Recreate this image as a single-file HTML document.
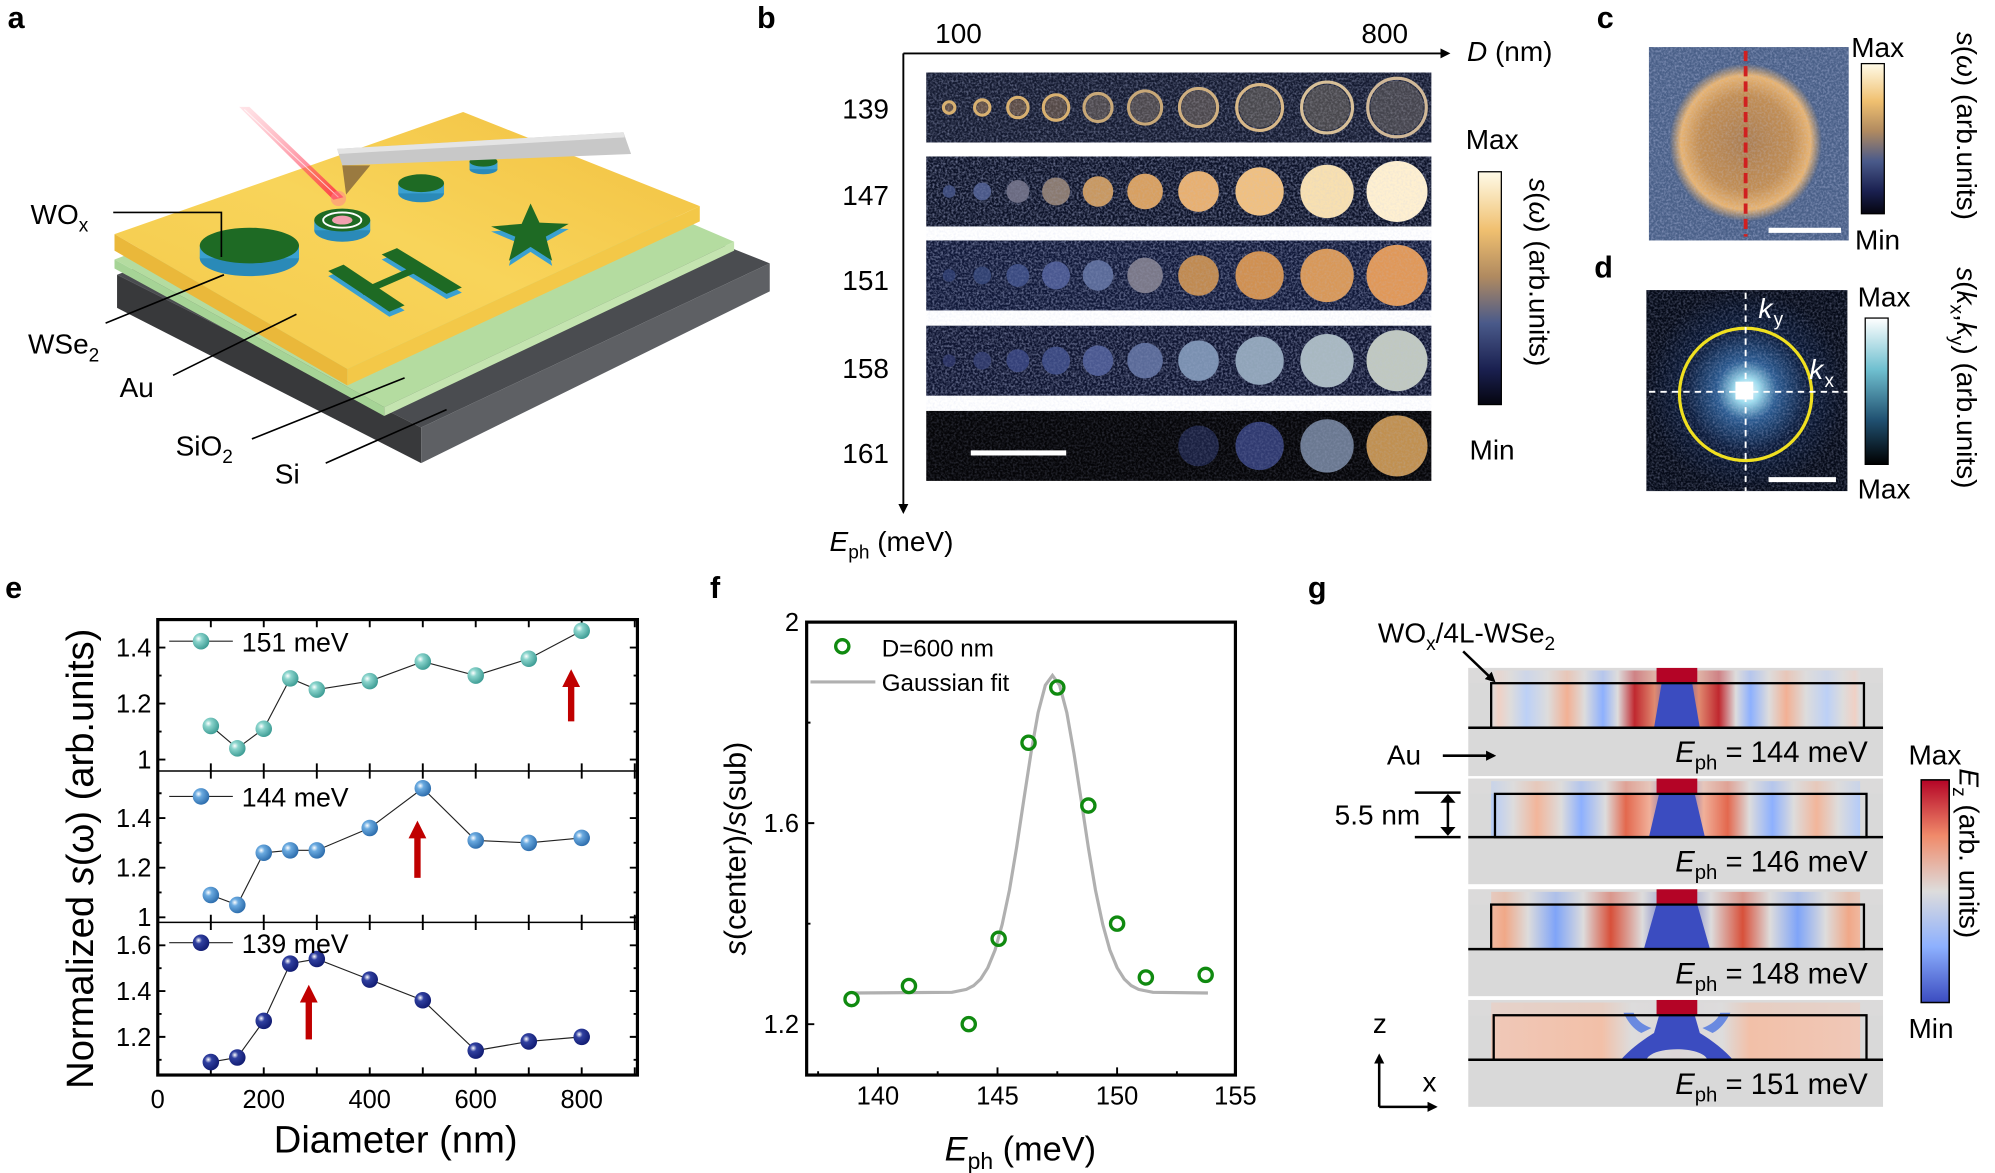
<!DOCTYPE html>
<html><head><meta charset="utf-8">
<style>
html,body{margin:0;padding:0;background:#fff;}
svg{display:block;font-family:"Liberation Sans",Arial,sans-serif;}
</style></head>
<body>
<svg width="1995" height="1173" viewBox="0 0 1568 922" preserveAspectRatio="none" xmlns="http://www.w3.org/2000/svg" xmlns:xlink="http://www.w3.org/1999/xlink">
<defs>
<linearGradient id="cbB" x1="0" y1="0" x2="0" y2="1">
<stop offset="0" stop-color="#fffbe8"/><stop offset="0.25" stop-color="#f0c070"/><stop offset="0.45" stop-color="#b08a60"/><stop offset="0.65" stop-color="#4a5a8a"/><stop offset="0.85" stop-color="#1a2050"/><stop offset="1" stop-color="#05050f"/></linearGradient>
<linearGradient id="cbD" x1="0" y1="0" x2="0" y2="1">
<stop offset="0" stop-color="#ffffff"/><stop offset="0.35" stop-color="#70c0d0"/><stop offset="0.7" stop-color="#205070"/><stop offset="1" stop-color="#000"/></linearGradient>
<linearGradient id="cbG" x1="0" y1="0" x2="0" y2="1">
<stop offset="0" stop-color="#b40426"/><stop offset="0.25" stop-color="#f08a6a"/><stop offset="0.5" stop-color="#dddcdc"/><stop offset="0.75" stop-color="#8db0fe"/><stop offset="1" stop-color="#3b4cc0"/></linearGradient>
<linearGradient id="au" x1="0" y1="1" x2="1" y2="0"><stop offset="0" stop-color="#f4c94a"/><stop offset="0.5" stop-color="#f8d45a"/><stop offset="1" stop-color="#f2c040"/></linearGradient>
<linearGradient id="laser" x1="0" y1="0" x2="1" y2="1"><stop offset="0" stop-color="#ff9aa8" stop-opacity="0.3"/><stop offset="1" stop-color="#ff2040"/></linearGradient>
<radialGradient id="sph1" cx="0.35" cy="0.35" r="0.7"><stop offset="0" stop-color="#ffffff"/><stop offset="0.3" stop-color="#8ad4cc"/><stop offset="1" stop-color="#3a9a92"/></radialGradient>
<radialGradient id="sph2" cx="0.35" cy="0.35" r="0.7"><stop offset="0" stop-color="#ffffff"/><stop offset="0.3" stop-color="#6aaae0"/><stop offset="1" stop-color="#2a6aaa"/></radialGradient>
<radialGradient id="sph3" cx="0.35" cy="0.35" r="0.7"><stop offset="0" stop-color="#ffffff"/><stop offset="0.3" stop-color="#3040a0"/><stop offset="1" stop-color="#101a70"/></radialGradient>
<radialGradient id="cimg" cx="0.5" cy="0.5" r="0.5"><stop offset="0" stop-color="#b08050"/><stop offset="0.6" stop-color="#c89050"/><stop offset="0.85" stop-color="#f0b870"/><stop offset="1" stop-color="#4a6088"/></radialGradient>
<radialGradient id="dimg" cx="0.5" cy="0.5" r="0.5"><stop offset="0" stop-color="#ffffff"/><stop offset="0.12" stop-color="#a0e0f0"/><stop offset="0.3" stop-color="#2a5a90"/><stop offset="0.6" stop-color="#0a1a3a"/><stop offset="1" stop-color="#050a18"/></radialGradient>
<linearGradient id="g1" x1="0" y1="0" x2="1" y2="0">
<stop offset="0" stop-color="#dddcdc"/><stop offset="0.02" stop-color="#f0d0c4"/><stop offset="0.053" stop-color="#dddcdc"/><stop offset="0.096" stop-color="#bcd0f6"/><stop offset="0.153" stop-color="#dddcdc"/><stop offset="0.206" stop-color="#f2b094"/><stop offset="0.253" stop-color="#dddcdc"/><stop offset="0.303" stop-color="#8db0fe"/><stop offset="0.343" stop-color="#dddcdc"/><stop offset="0.389" stop-color="#c0282f"/><stop offset="0.443" stop-color="#e08a70"/><stop offset="0.503" stop-color="#3b4cc0"/><stop offset="0.563" stop-color="#e08a70"/><stop offset="0.617" stop-color="#c0282f"/><stop offset="0.663" stop-color="#dddcdc"/><stop offset="0.703" stop-color="#8db0fe"/><stop offset="0.753" stop-color="#dddcdc"/><stop offset="0.8" stop-color="#f2b094"/><stop offset="0.853" stop-color="#dddcdc"/><stop offset="0.91" stop-color="#bcd0f6"/><stop offset="0.953" stop-color="#dddcdc"/><stop offset="0.986" stop-color="#f0d0c4"/><stop offset="1" stop-color="#dddcdc"/></linearGradient>
<linearGradient id="g2" x1="0" y1="0" x2="1" y2="0">
<stop offset="0" stop-color="#b4cbf8"/><stop offset="0.06" stop-color="#dddcdc"/><stop offset="0.124" stop-color="#f2b59a"/><stop offset="0.19" stop-color="#dddcdc"/><stop offset="0.244" stop-color="#8db0fe"/><stop offset="0.31" stop-color="#dddcdc"/><stop offset="0.365" stop-color="#e3684e"/><stop offset="0.43" stop-color="#f0b09a"/><stop offset="0.503" stop-color="#3b4cc0"/><stop offset="0.576" stop-color="#f0b09a"/><stop offset="0.641" stop-color="#e3684e"/><stop offset="0.7" stop-color="#dddcdc"/><stop offset="0.762" stop-color="#8db0fe"/><stop offset="0.82" stop-color="#dddcdc"/><stop offset="0.882" stop-color="#f2b59a"/><stop offset="0.94" stop-color="#dddcdc"/><stop offset="1" stop-color="#b4cbf8"/></linearGradient>
<linearGradient id="g3" x1="0" y1="0" x2="1" y2="0">
<stop offset="0" stop-color="#f0b8a0"/><stop offset="0.037" stop-color="#f0a888"/><stop offset="0.1" stop-color="#dddcdc"/><stop offset="0.175" stop-color="#7fa4f8"/><stop offset="0.25" stop-color="#dddcdc"/><stop offset="0.324" stop-color="#d8503a"/><stop offset="0.41" stop-color="#dddcdc"/><stop offset="0.503" stop-color="#3b4cc0"/><stop offset="0.596" stop-color="#dddcdc"/><stop offset="0.682" stop-color="#d8503a"/><stop offset="0.756" stop-color="#dddcdc"/><stop offset="0.831" stop-color="#7fa4f8"/><stop offset="0.906" stop-color="#dddcdc"/><stop offset="0.969" stop-color="#f0a888"/><stop offset="1" stop-color="#f0b8a0"/></linearGradient>
<linearGradient id="g4" x1="0" y1="0" x2="1" y2="0">
<stop offset="0" stop-color="#f0c8b8"/><stop offset="0.3" stop-color="#f2c0a8"/><stop offset="0.38" stop-color="#dddcdc"/><stop offset="0.503" stop-color="#dcd6d8"/><stop offset="0.626" stop-color="#dddcdc"/><stop offset="0.7" stop-color="#f2c0a8"/><stop offset="1" stop-color="#f0c8b8"/></linearGradient>
<filter id="noise" x="0" y="0" width="1" height="1"><feTurbulence type="fractalNoise" baseFrequency="0.6" numOctaves="2" seed="3"/><feColorMatrix type="matrix" values="0 0 0 0 0.5  0 0 0 0 0.55  0 0 0 0 0.8  0 0 0 1.2 -0.45"/><feComposite in2="SourceGraphic" operator="in"/></filter>
<marker id="ah" markerWidth="8" markerHeight="8" refX="6" refY="4" orient="auto" markerUnits="userSpaceOnUse"><path d="M0,0 L8,4 L0,8 z" fill="#000"/></marker>
<path id="xt" d="M124,0v-6M165.7,0v-6M207.3,0v-6M249,0v-6M290.6,0v-6M332.3,0v-6M373.9,0v-6M415.6,0v-6M457.2,0v-6M498.9,0v-6" stroke="#000" stroke-width="1.5"/>
</defs>

<g font-weight="bold" font-size="24" fill="#000">
<text x="6" y="22">a</text><text x="595" y="22">b</text><text x="1255" y="22">c</text><text x="1253" y="218">d</text>
<text x="4" y="470">e</text><text x="558" y="470">f</text><text x="1028" y="470">g</text></g>

<!-- ===== panel a ===== -->
<g>
<polygon points="92,216 366,112 605,207 331,336" fill="#4a4c50"/>
<polygon points="92,216 331,336 331,364 92,242" fill="#38393b"/>
<polygon points="331,336 605,207 605,229 331,364" fill="#5e6064"/>
<polygon points="90,204 364,99 577,190 302,320" fill="#b4dca0"/>
<polygon points="90,204 302,320 302,327 90,211" fill="#a6d496"/>
<polygon points="302,320 577,190 577,197 302,327" fill="#c4e4b0"/>
<polygon points="90,184 364,88 550,162 273,290" fill="url(#au)"/>
<polygon points="90,184 273,290 273,303 90,197" fill="#eab83a"/>
<polygon points="273,290 550,162 550,174 273,303" fill="#f3c848"/>
<ellipse cx="196" cy="203" rx="39" ry="14" fill="#2a8ab8"/><rect x="157" y="193" width="78" height="10" fill="#3aa0d0"/>
<ellipse cx="196" cy="193" rx="39" ry="14" fill="#1e6a24"/>
<ellipse cx="269" cy="181" rx="22" ry="9" fill="#2a8ab8"/><rect x="247" y="173" width="44" height="8" fill="#3aa0d0"/>
<ellipse cx="269" cy="173" rx="22" ry="9" fill="#1e6a24"/><ellipse cx="269" cy="173" rx="15" ry="6" fill="none" stroke="#fff" stroke-width="1.5"/><ellipse cx="269" cy="173" rx="8" ry="3.5" fill="#f0a0b0"/>
<ellipse cx="331" cy="152" rx="18" ry="7" fill="#2a8ab8"/><rect x="313" y="144" width="36" height="8" fill="#3aa0d0"/><ellipse cx="331" cy="144" rx="18" ry="7" fill="#1e6a24"/>
<ellipse cx="380" cy="133" rx="11" ry="4" fill="#2a8ab8"/><rect x="369" y="127" width="22" height="6" fill="#3aa0d0"/><ellipse cx="380" cy="127" rx="11" ry="4" fill="#1e6a24"/>
<polygon points="417,160 424,175 447,176 429,186 434,205 417,194 400,205 405,186 386,178 410,176" fill="#3aa0d0" transform="translate(0,4)"/>
<polygon points="417,160 424,175 447,176 429,186 434,205 417,194 400,205 405,186 386,178 410,176" fill="#1e6a24"/>
<g transform="translate(0,4)" fill="#3aa0d0"><polygon points="258,213 270,208 318,240 306,245"/><polygon points="300,200 312,195 363,226 351,231"/></g>
<g fill="#1e6a24"><polygon points="258,213 270,208 318,240 306,245"/><polygon points="300,200 312,195 363,226 351,231"/><polygon points="282,228 328,208 332,212 286,232"/></g>
<polygon points="265,117 490,104 496,121 269,130" fill="#c8c8c8"/><polygon points="265,117 490,104 491,108 266,121" fill="#e4e4e4"/>
<polygon points="269,130 291,130 272,153" fill="#9a7a40"/>
<polygon points="188,84 196,84 270,155 262,157" fill="url(#laser)" opacity="0.85"/>
<line x1="192" y1="86" x2="266" y2="155" stroke="#fff" stroke-width="0.8" opacity="0.7"/>
<circle cx="266" cy="156" r="6" fill="#ff8090" opacity="0.5"/>
</g>
<g font-size="22" fill="#000">
<text x="24" y="176">WO<tspan font-size="15" dy="6">x</tspan></text>
<text x="22" y="278">WSe<tspan font-size="15" dy="6">2</tspan></text>
<text x="94" y="312">Au</text>
<text x="138" y="358">SiO<tspan font-size="15" dy="6">2</tspan></text>
<text x="216" y="380">Si</text></g>
<g stroke="#000" stroke-width="1.3" fill="none">
<polyline points="89,167 174,167 174,202"/><line x1="83" y1="254" x2="176" y2="216"/><line x1="136" y1="295" x2="233" y2="247"/>
<line x1="198" y1="345" x2="318" y2="297"/><line x1="256" y1="364" x2="351" y2="322"/></g>

<!-- ===== panel b ===== -->
<rect x="728" y="57" width="397" height="55" fill="#141a30"/><rect x="728" y="57" width="397" height="55" fill="#404a80" filter="url(#noise)" opacity="0.8"/>
<rect x="728" y="123" width="397" height="55" fill="#0c1228"/><rect x="728" y="123" width="397" height="55" fill="#404a80" filter="url(#noise)" opacity="0.7"/>
<rect x="728" y="189" width="397" height="55" fill="#101838"/><rect x="728" y="189" width="397" height="55" fill="#404a80" filter="url(#noise)" opacity="0.7"/>
<rect x="728" y="256" width="397" height="55" fill="#0e1430"/><rect x="728" y="256" width="397" height="55" fill="#404a80" filter="url(#noise)" opacity="0.7"/>
<rect x="728" y="323" width="397" height="55" fill="#050508"/>
<g transform="translate(0,84.5)" fill="none" stroke-width="2.5">
<circle cx="746" cy="0" r="4.5" stroke="#d8b070"/><circle cx="772" cy="0" r="6" stroke="#d8b070"/><circle cx="800" cy="0" r="8" stroke="#d8b070"/><circle cx="830" cy="0" r="10" stroke="#d8b070"/><circle cx="863" cy="0" r="11" stroke="#c8a878"/><circle cx="900" cy="0" r="13" stroke="#c8a878"/><circle cx="942" cy="0" r="15" stroke="#d0b080"/><circle cx="990" cy="0" r="18" stroke="#d8b888"/><circle cx="1043" cy="0" r="20" stroke="#d8c098"/><circle cx="1098" cy="0" r="23" stroke="#d0b898"/>
</g>
<g transform="translate(0,84.5)" opacity="0.45">
<circle cx="746" cy="0" r="3" fill="#c09060"/><circle cx="772" cy="0" r="4.5" fill="#c09060"/><circle cx="800" cy="0" r="6.5" fill="#b08860"/><circle cx="830" cy="0" r="8.5" fill="#a08060"/><circle cx="863" cy="0" r="9.5" fill="#908070"/><circle cx="900" cy="0" r="11.5" fill="#908070"/><circle cx="942" cy="0" r="13.5" fill="#908070"/><circle cx="990" cy="0" r="16" fill="#8a8070"/><circle cx="1043" cy="0" r="18" fill="#8a8070"/><circle cx="1098" cy="0" r="21" fill="#807870"/>
</g>
<g transform="translate(0,150.5)">
<circle cx="746" cy="0" r="5" fill="#3a4878"/><circle cx="772" cy="0" r="7" fill="#4a5888"/><circle cx="800" cy="0" r="9" fill="#6a6a80"/><circle cx="830" cy="0" r="11" fill="#8a7a70"/><circle cx="863" cy="0" r="12" fill="#c89860"/><circle cx="900" cy="0" r="14" fill="#d8a060"/><circle cx="942" cy="0" r="16" fill="#e8b070"/><circle cx="990" cy="0" r="19" fill="#f0c080"/><circle cx="1043" cy="0" r="21" fill="#f8e0b0"/><circle cx="1098" cy="0" r="24" fill="#fff0d0"/>
</g>
<g transform="translate(0,216.5)">
<circle cx="746" cy="0" r="5" fill="#2a3868"/><circle cx="772" cy="0" r="7" fill="#304070"/><circle cx="800" cy="0" r="9" fill="#3a4a80"/><circle cx="830" cy="0" r="11" fill="#4a5890"/><circle cx="863" cy="0" r="12" fill="#5a6a98"/><circle cx="900" cy="0" r="14" fill="#7a7888"/><circle cx="942" cy="0" r="16" fill="#c08a50"/><circle cx="990" cy="0" r="19" fill="#d09050"/><circle cx="1043" cy="0" r="21" fill="#d89858"/><circle cx="1098" cy="0" r="24" fill="#e09858"/>
</g>
<g transform="translate(0,283.5)">
<circle cx="746" cy="0" r="5" fill="#283060"/><circle cx="772" cy="0" r="7" fill="#2e3868"/><circle cx="800" cy="0" r="9" fill="#344078"/><circle cx="830" cy="0" r="11" fill="#3a4880"/><circle cx="863" cy="0" r="12" fill="#4a5890"/><circle cx="900" cy="0" r="14" fill="#5a6a98"/><circle cx="942" cy="0" r="16" fill="#7a90b0"/><circle cx="990" cy="0" r="19" fill="#90a4b8"/><circle cx="1043" cy="0" r="21" fill="#a8b8c0"/><circle cx="1098" cy="0" r="24" fill="#c0c8c0"/>
</g>
<g transform="translate(0,350.5)">
<circle cx="942" cy="0" r="16" fill="#1a2040"/><circle cx="990" cy="0" r="19" fill="#303a70"/><circle cx="1043" cy="0" r="21" fill="#6a7890"/><circle cx="1098" cy="0" r="24" fill="#c09050"/>
</g>
<rect x="728" y="123" width="397" height="255" fill="#6a7aa0" filter="url(#noise)" opacity="0.35"/>
<line x1="763" y1="356" x2="838" y2="356" stroke="#fff" stroke-width="4"/>
<g stroke="#000" stroke-width="1.5"><line x1="710" y1="42" x2="1138" y2="42" marker-end="url(#ah)"/><line x1="710" y1="42" x2="710" y2="402" marker-end="url(#ah)"/></g>
<g font-size="22" fill="#000">
<text x="735" y="34">100</text><text x="1070" y="34">800</text>
<text x="1153" y="48"><tspan font-style="italic">D</tspan> (nm)</text>
<text x="662" y="93">139</text><text x="662" y="161">147</text><text x="662" y="228">151</text><text x="662" y="297">158</text><text x="662" y="364">161</text>
<text x="652" y="433"><tspan font-style="italic">E</tspan><tspan font-size="15" dy="6">ph</tspan><tspan dy="-6"> (meV)</tspan></text>
<text x="1152" y="117">Max</text><text x="1155" y="361">Min</text></g>
<rect x="1162" y="135" width="18" height="183" fill="url(#cbB)" stroke="#000" stroke-width="1"/>
<text font-size="22" transform="translate(1202,140) rotate(90)"><tspan font-style="italic">s</tspan>(<tspan font-style="italic">ω</tspan>) (arb.units)</text>

<!-- ===== panel c ===== -->
<rect x="1296" y="37" width="157" height="152" fill="#4a6088"/>
<rect x="1296" y="37" width="157" height="152" fill="#5a70a0" filter="url(#noise)" opacity="0.8"/>
<ellipse cx="1372" cy="112" rx="60" ry="62" fill="url(#cimg)" opacity="0.95"/>
<ellipse cx="1372" cy="112" rx="60" ry="62" fill="#c89050" filter="url(#noise)" opacity="0.5"/>
<line x1="1372" y1="40" x2="1372" y2="186" stroke="#d02020" stroke-width="3" stroke-dasharray="8,4"/>
<line x1="1390" y1="181" x2="1447" y2="181" stroke="#fff" stroke-width="4"/>
<rect x="1463" y="50" width="18" height="118" fill="url(#cbB)" stroke="#000" stroke-width="1"/>
<g font-size="22"><text x="1455" y="45">Max</text><text x="1458" y="196">Min</text></g>
<text font-size="22" transform="translate(1538,25) rotate(90)"><tspan font-style="italic">s</tspan>(<tspan font-style="italic">ω</tspan>) (arb.units)</text>

<!-- ===== panel d ===== -->
<rect x="1294" y="228" width="158" height="158" fill="url(#dimg)"/>
<rect x="1294" y="228" width="158" height="158" fill="#203a70" filter="url(#noise)" opacity="0.6"/>
<rect x="1364" y="300" width="14" height="14" fill="#fff"/>
<circle cx="1372" cy="310" r="52" fill="none" stroke="#f0e020" stroke-width="2.5"/>
<g stroke="#fff" stroke-width="1.5" stroke-dasharray="5,4"><line x1="1372" y1="230" x2="1372" y2="386"/><line x1="1296" y1="308" x2="1452" y2="308"/></g>
<line x1="1390" y1="377" x2="1443" y2="377" stroke="#fff" stroke-width="4"/>
<g font-size="22" fill="#fff"><text x="1382" y="250" font-style="italic">k</text><text x="1394" y="256" font-size="15">y</text><text x="1422" y="298" font-style="italic">k</text><text x="1434" y="304" font-size="15">x</text></g>
<rect x="1466" y="250" width="18" height="115" fill="url(#cbD)" stroke="#000" stroke-width="1"/>
<g font-size="22"><text x="1460" y="241">Max</text><text x="1460" y="392">Max</text></g>
<text font-size="22" transform="translate(1538,210) rotate(90)"><tspan font-style="italic">s</tspan>(<tspan font-style="italic">k</tspan><tspan font-size="15" dy="5">x</tspan><tspan dy="-5">,</tspan><tspan font-style="italic">k</tspan><tspan font-size="15" dy="5">y</tspan><tspan dy="-5">) (arb.units)</tspan></text>

<!-- ===== panel e ===== -->
<use xlink:href="#xt" href="#xt" transform="translate(0,845)"/>
<use xlink:href="#xt" href="#xt" transform="translate(0,725)"/>
<use xlink:href="#xt" href="#xt" transform="translate(0,606)"/>
<use xlink:href="#xt" href="#xt" transform="translate(0,487) scale(1,-1)"/>
<use xlink:href="#xt" href="#xt" transform="translate(0,606) scale(1,-1)"/>
<use xlink:href="#xt" href="#xt" transform="translate(0,725) scale(1,-1)"/>
<g stroke="#000" stroke-width="1.5">
<path d="M124,597h6M124,553h6M124,509h6M124,575h3M124,531h3M501,597h-6M501,553h-6M501,509h-6M501,575h-3M501,531h-3"/>
<path d="M124,721h6M124,682h6M124,643h6M124,701.5h3M124,662.5h3M124,623.5h3M501,721h-6M501,682h-6M501,643h-6M501,701.5h-3M501,662.5h-3M501,623.5h-3"/>
<path d="M124,815h6M124,779h6M124,743h6M124,833h3M124,797h3M124,761h3M501,815h-6M501,779h-6M501,743h-6M501,833h-3M501,797h-3M501,761h-3"/>
</g>
<g font-size="20" text-anchor="end">
<text x="119" y="604">1</text><text x="119" y="560">1.2</text><text x="119" y="516">1.4</text>
<text x="119" y="728">1</text><text x="119" y="689">1.2</text><text x="119" y="650">1.4</text>
<text x="119" y="822">1.2</text><text x="119" y="786">1.4</text><text x="119" y="750">1.6</text></g>
<g font-size="20" text-anchor="middle"><text x="124" y="871">0</text><text x="207.3" y="871">200</text><text x="290.6" y="871">400</text><text x="373.9" y="871">600</text><text x="457.2" y="871">800</text></g>
<g fill="none" stroke="#222" stroke-width="0.9">
<polyline points="165.7,570.6 186.5,588.2 207.3,572.8 228.1,533.2 249,542 290.6,535.4 332.3,520 373.9,531 415.6,517.8 457.2,495.8"/>
<polyline points="165.7,703.5 186.5,711.3 207.3,670.3 228.1,668.4 249,668.4 290.6,650.8 332.3,619.6 373.9,660.6 415.6,662.5 457.2,658.6"/>
<polyline points="165.7,834.8 186.5,831.2 207.3,802.4 228.1,757.4 249,753.8 290.6,770 332.3,786.2 373.9,825.8 415.6,818.6 457.2,815"/>
<line x1="133" y1="504" x2="183" y2="504"/><line x1="133" y1="626" x2="183" y2="626"/><line x1="133" y1="741" x2="183" y2="741"/></g>
<g fill="url(#sph1)">
<circle cx="165.7" cy="570.6" r="6.5"/><circle cx="186.5" cy="588.2" r="6.5"/><circle cx="207.3" cy="572.8" r="6.5"/><circle cx="228.1" cy="533.2" r="6.5"/><circle cx="249" cy="542" r="6.5"/><circle cx="290.6" cy="535.4" r="6.5"/><circle cx="332.3" cy="520" r="6.5"/><circle cx="373.9" cy="531" r="6.5"/><circle cx="415.6" cy="517.8" r="6.5"/><circle cx="457.2" cy="495.8" r="6.5"/><circle cx="158" cy="504" r="6.5"/></g>
<g fill="url(#sph2)">
<circle cx="165.7" cy="703.5" r="6.5"/><circle cx="186.5" cy="711.3" r="6.5"/><circle cx="207.3" cy="670.3" r="6.5"/><circle cx="228.1" cy="668.4" r="6.5"/><circle cx="249" cy="668.4" r="6.5"/><circle cx="290.6" cy="650.8" r="6.5"/><circle cx="332.3" cy="619.6" r="6.5"/><circle cx="373.9" cy="660.6" r="6.5"/><circle cx="415.6" cy="662.5" r="6.5"/><circle cx="457.2" cy="658.6" r="6.5"/><circle cx="158" cy="626" r="6.5"/></g>
<g fill="url(#sph3)">
<circle cx="165.7" cy="834.8" r="6.5"/><circle cx="186.5" cy="831.2" r="6.5"/><circle cx="207.3" cy="802.4" r="6.5"/><circle cx="228.1" cy="757.4" r="6.5"/><circle cx="249" cy="753.8" r="6.5"/><circle cx="290.6" cy="770" r="6.5"/><circle cx="332.3" cy="786.2" r="6.5"/><circle cx="373.9" cy="825.8" r="6.5"/><circle cx="415.6" cy="818.6" r="6.5"/><circle cx="457.2" cy="815" r="6.5"/><circle cx="158" cy="741" r="6.5"/></g>
<g font-size="21"><text x="190" y="512">151 meV</text><text x="190" y="634">144 meV</text><text x="190" y="749">139 meV</text></g>
<g fill="#c00000">
<rect x="446.4" y="538" width="5" height="29"/><polygon points="441.9,540 448.9,526 455.9,540"/>
<rect x="325.6" y="657" width="5" height="33"/><polygon points="321.1,659 328.1,645 335.1,659"/>
<rect x="240.2" y="786" width="5" height="31"/><polygon points="235.7,788 242.7,774 249.7,788"/></g>
<rect x="124" y="487" width="377" height="358" fill="none" stroke="#000" stroke-width="2.5"/>
<line x1="124" y1="606" x2="501" y2="606" stroke="#000" stroke-width="1.2"/>
<line x1="124" y1="725" x2="501" y2="725" stroke="#000" stroke-width="1.2"/>
<text font-size="30" transform="translate(73,675) rotate(-90)" text-anchor="middle">Normalized <tspan font-style="italic">s</tspan>(ω) (arb.units)</text>
<text x="311" y="906" font-size="30" text-anchor="middle">Diameter (nm)</text>

<!-- ===== panel f ===== -->
<g stroke="#000" stroke-width="1.5">
<path d="M690,845v-6M784,845v-6M878,845v-6M643,845v-3M737,845v-3M831,845v-3M925,845v-3"/>
<path d="M634,805h6M634,647h6M634,726h3M634,568h3"/></g>
<g font-size="20" text-anchor="end"><text x="628" y="812">1.2</text><text x="628" y="654">1.6</text><text x="628" y="496">2</text></g>
<g font-size="20" text-anchor="middle"><text x="690" y="868">140</text><text x="784" y="868">145</text><text x="878" y="868">150</text><text x="971" y="868">155</text></g>
<polyline fill="none" stroke="#b0b0b0" stroke-width="2.5" points="671.2,780.5 748.2,780 759.5,777.7 765.2,774.8 770.8,769.5 776.4,760.6 782.1,746.7 787.7,726.5 793.4,699.6 799,666.2 804.6,629.1 810.3,592.1 815.9,560.2 821.6,538.6 827.2,530.9 832.8,538.6 838.5,560.2 844.1,592.1 849.8,629.1 855.4,666.2 861,699.6 866.7,726.5 872.3,746.7 878,760.6 883.6,769.5 889.2,774.8 894.9,777.7 906.2,780 949.4,780.5"/>
<g fill="none" stroke="#108a10" stroke-width="2.6">
<circle cx="669.3" cy="785.3" r="5.2"/><circle cx="714.4" cy="775" r="5.2"/><circle cx="761.4" cy="805" r="5.2"/><circle cx="784.9" cy="737.9" r="5.2"/><circle cx="808.4" cy="583.8" r="5.2"/><circle cx="831" cy="540.4" r="5.2"/><circle cx="855.4" cy="633.2" r="5.2"/><circle cx="878" cy="726" r="5.2"/><circle cx="900.6" cy="768.3" r="5.2"/><circle cx="947.6" cy="766.3" r="5.2"/><circle cx="662" cy="508" r="5.2"/></g>
<text x="693" y="516" font-size="19">D=600 nm</text>
<line x1="637" y1="536" x2="688" y2="536" stroke="#b0b0b0" stroke-width="2.5"/>
<text x="693" y="543" font-size="19">Gaussian fit</text>
<rect x="634" y="489" width="337" height="356" fill="none" stroke="#000" stroke-width="2.5"/>
<text font-size="24" transform="translate(586,667) rotate(-90)" text-anchor="middle"><tspan font-style="italic">s</tspan>(center)/<tspan font-style="italic">s</tspan>(sub)</text>
<text x="802" y="912" font-size="27" text-anchor="middle"><tspan font-style="italic">E</tspan><tspan font-size="18" dy="7">ph</tspan><tspan dy="-7"> (meV)</tspan></text>

<!-- ===== panel g ===== -->
<rect x="1154" y="525" width="326" height="85" fill="#d9d9d9"/>
<rect x="1154" y="612" width="326" height="83" fill="#d9d9d9"/>
<rect x="1154" y="699" width="326" height="84" fill="#d9d9d9"/>
<rect x="1154" y="786" width="326" height="84" fill="#d9d9d9"/>
<rect x="1172" y="527" width="290" height="45" fill="url(#g1)"/>
<rect x="1172" y="614" width="290" height="44" fill="url(#g2)"/>
<rect x="1172" y="701" width="290" height="45" fill="url(#g3)"/>
<rect x="1172" y="788" width="290" height="45" fill="url(#g4)"/>
<g fill="#dddcdc" opacity="0.5">
<rect x="1154" y="525" width="326" height="12"/><rect x="1154" y="612" width="326" height="12"/><rect x="1154" y="699" width="326" height="12"/><rect x="1154" y="786" width="326" height="12"/></g>
<g fill="#b40426"><rect x="1302" y="525" width="32" height="12"/><rect x="1302" y="612" width="32" height="12"/><rect x="1302" y="699" width="32" height="12"/><rect x="1302" y="786" width="32" height="12"/></g>
<g fill="#3b4cc0">
<polygon points="1306,537 1330,537 1336,572 1300,572"/>
<polygon points="1304,624 1332,624 1340,658 1296,658"/>
<polygon points="1302,711 1334,711 1344,746 1292,746"/>
<path d="M1304,798 L1332,798 L1336,812 C1346,818 1356,826 1362,833 L1342,833 C1338,822 1298,822 1294,833 L1274,833 C1280,826 1290,818 1300,812 z"/>
</g>
<path d="M1290,812 C1282,808 1278,800 1276,796 L1284,796 C1286,802 1292,806 1298,808 z M1346,812 C1354,808 1358,800 1360,796 L1352,796 C1350,802 1344,806 1338,808 z" fill="#6a8ae0"/>
<g fill="none" stroke="#000" stroke-width="1.8">
<rect x="1172" y="537" width="293" height="35"/><rect x="1175" y="624" width="292" height="34"/><rect x="1172" y="711" width="293" height="35"/><rect x="1174" y="798" width="293" height="35"/></g>
<g stroke="#000" stroke-width="2"><line x1="1154" y1="572" x2="1480" y2="572"/><line x1="1154" y1="658" x2="1480" y2="658"/><line x1="1154" y1="746" x2="1480" y2="746"/><line x1="1154" y1="833" x2="1480" y2="833"/></g>
<g font-size="23" text-anchor="end">
<text x="1468" y="599"><tspan font-style="italic">E</tspan><tspan font-size="16" dy="6">ph</tspan><tspan dy="-6"> = 144 meV</tspan></text>
<text x="1468" y="685"><tspan font-style="italic">E</tspan><tspan font-size="16" dy="6">ph</tspan><tspan dy="-6"> = 146 meV</tspan></text>
<text x="1468" y="773"><tspan font-style="italic">E</tspan><tspan font-size="16" dy="6">ph</tspan><tspan dy="-6"> = 148 meV</tspan></text>
<text x="1468" y="860"><tspan font-style="italic">E</tspan><tspan font-size="16" dy="6">ph</tspan><tspan dy="-6"> = 151 meV</tspan></text></g>
<g font-size="22">
<text x="1083" y="505">WO<tspan font-size="15" dy="6">x</tspan><tspan dy="-6">/4L-WSe</tspan><tspan font-size="15" dy="6">2</tspan></text>
<text x="1090" y="601">Au</text><text x="1049" y="648">5.5 nm</text>
<text x="1079" y="812">z</text><text x="1118" y="858">x</text>
<text x="1500" y="601">Max</text><text x="1500" y="816">Min</text></g>
<line x1="1150" y1="512" x2="1174" y2="535" stroke="#000" stroke-width="2" marker-end="url(#ah)"/>
<line x1="1134" y1="594" x2="1174" y2="594" stroke="#000" stroke-width="2" marker-end="url(#ah)"/>
<g stroke="#000" stroke-width="2"><line x1="1112" y1="623" x2="1148" y2="623"/><line x1="1112" y1="658" x2="1148" y2="658"/>
<line x1="1138" y1="630" x2="1138" y2="651"/></g>
<path d="M1132,631 L1138,624 L1144,631 z M1132,650 L1138,657 L1144,650 z" fill="#000"/>
<line x1="1084" y1="870" x2="1084" y2="830" stroke="#000" stroke-width="2" marker-end="url(#ah)"/>
<line x1="1084" y1="870" x2="1128" y2="870" stroke="#000" stroke-width="2" marker-end="url(#ah)"/>
<rect x="1510" y="613" width="22" height="175" fill="url(#cbG)" stroke="#000" stroke-width="1.2"/>
<text font-size="22" transform="translate(1540,604) rotate(90)"><tspan font-style="italic">E</tspan><tspan font-size="15" dy="5">z</tspan><tspan dy="-5"> (arb. units)</tspan></text>
</svg>
</body></html>
